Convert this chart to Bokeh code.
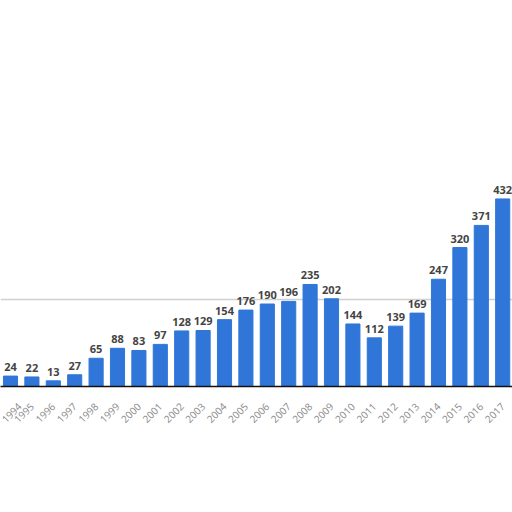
import numpy as np
from bokeh.plotting import figure
from bokeh.models import ColumnDataSource, Range1d, FixedTicker, LabelSet
from bokeh.core.properties import value
from bokeh.embed import file_html
from bokeh.resources import INLINE
import math

years = [str(y) for y in range(1994, 2018)]
counts = [24, 22, 13, 27, 65, 88, 83, 97, 128, 129, 154, 176, 190, 196,
          235, 202, 144, 112, 139, 169, 247, 320, 371, 432]

idx = list(range(len(years)))
src = ColumnDataSource(dict(x=idx, top=counts, lab=[str(c) for c in counts]))

# bar i centre at about 10 + 21.4*i px
p = figure(width=512, height=496, output_backend="svg", toolbar_location=None,
           x_range=Range1d(-10 / 21.4, (512 - 10) / 21.4), y_range=Range1d(0, 889),
           min_border_left=0, min_border_right=0, min_border_top=0, min_border_bottom=0)
p.outline_line_color = None
p.background_fill_color = "white"
p.border_fill_color = "white"

p.vbar(x="x", top="top", width=0.66, source=src, color="#2f76d8")

labels = LabelSet(x="x", y="top", text="lab", source=src, text_align="center",
                  text_baseline="bottom", y_offset=5, text_font=value("Open Sans"),
                  text_font_size="11px", text_font_style="bold", text_color="#444444")
p.add_layout(labels)

p.xaxis.ticker = FixedTicker(ticks=idx)
p.xaxis.major_label_overrides = {i: y for i, y in enumerate(years)}
p.xaxis.major_label_orientation = math.pi / 4
p.xaxis.major_label_text_font = "Open Sans"
p.xaxis.major_label_text_font_size = "10px"
p.xaxis.major_label_text_color = "#888888"
p.xaxis.major_tick_line_color = None
p.xaxis.minor_tick_line_color = None
p.xaxis.axis_line_color = "#111111"
p.xaxis.axis_line_width = 1.5
p.xaxis.major_label_standoff = 12

p.yaxis.visible = False
p.xgrid.grid_line_color = None
p.ygrid.ticker = FixedTicker(ticks=[200])
p.ygrid.grid_line_color = "#d0d0d0"
p.ygrid.grid_line_width = 1.5

p.min_border_bottom = 496 - 386

open("out.html", "w").write(file_html(p, INLINE))
